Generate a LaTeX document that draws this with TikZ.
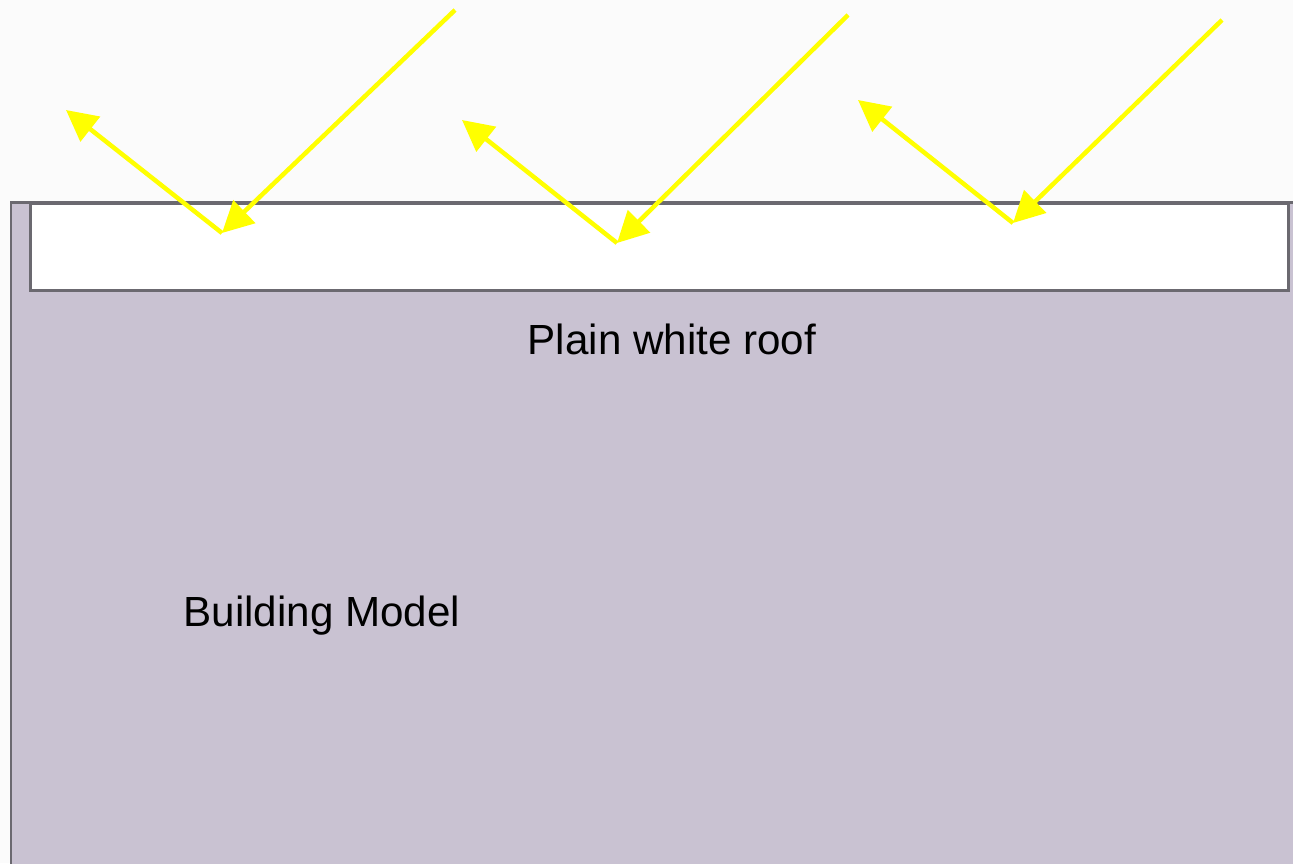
\documentclass[tikz,border=0pt]{standalone}
\usepackage{fontspec}
\setmainfont{Liberation Sans}
\usetikzlibrary{arrows.meta}
\definecolor{bldg}{RGB}{201,194,210}
\definecolor{edge}{RGB}{107,105,112}
\definecolor{sky}{RGB}{251,251,251}
\definecolor{ray}{RGB}{255,255,0}
\begin{document}
\begin{tikzpicture}[x=0.02cm,y=-0.02cm,
  raystyle/.style={draw=ray,line width=0.09cm,-{Triangle[length=0.62cm,width=0.62cm]}},
  label/.style={font=\fontsize{24}{28}\selectfont,text=black,inner sep=0pt}]
\useasboundingbox (0,0) rectangle (1293,863);
\clip (0,0) rectangle (1293,863);
\fill[sky] (0,0) rectangle (1293,863);
% building
\filldraw[fill=bldg,draw=edge,line width=0.06cm] (11,202) rectangle (1310,880);
% roof
\filldraw[fill=white,draw=edge,line width=0.06cm] (30,203) rectangle (1288,290);
% labels
\node[label] (roof) at (672,339) {Plain white roof};
\node[label] (bm) at (322,616) {Building Model};
% rays
\coordinate (s1) at (455,10);
\coordinate (h1) at (222,233);
\coordinate (o1) at (66,110);
\coordinate (s2) at (848,15);
\coordinate (h2) at (617,243);
\coordinate (o2) at (462,120);
\coordinate (s3) at (1222,20);
\coordinate (h3) at (1013,223);
\coordinate (o3) at (858,100);
\draw[raystyle] (s1) -- (h1);
\draw[raystyle] (h1) -- (o1);
\draw[raystyle] (s2) -- (h2);
\draw[raystyle] (h2) -- (o2);
\draw[raystyle] (s3) -- (h3);
\draw[raystyle] (h3) -- (o3);
\end{tikzpicture}
\end{document}
